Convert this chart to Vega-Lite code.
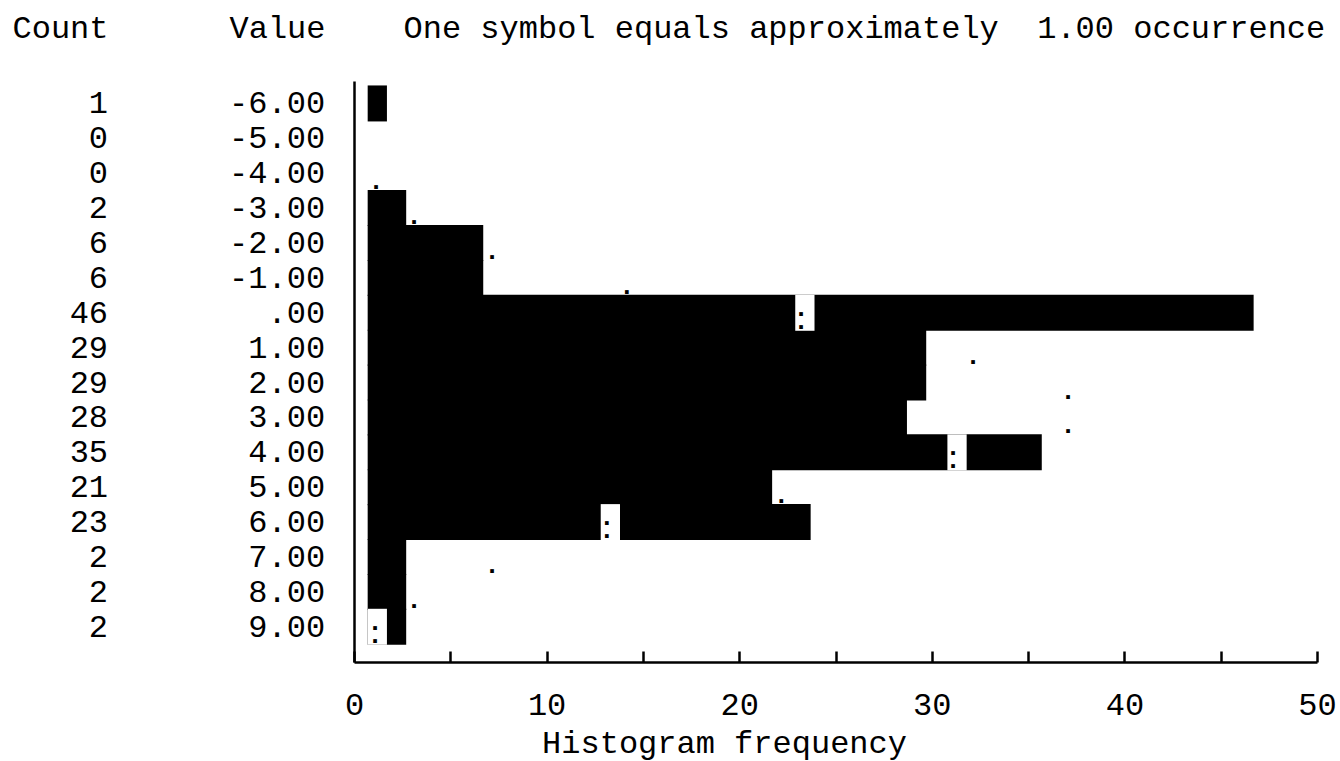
{
  "$schema": "https://vega.github.io/schema/vega-lite/v6.json",
  "width": 963,
  "height": 581,
  "autosize": {"type": "none"},
  "padding": {"left": 354, "top": 81, "right": 23, "bottom": 99},
  "background": "white",
  "config": {"view": {"stroke": null}, "font": "Liberation Mono"},
  "datasets": {
    "hist": [
      {"value": -6, "label": "-6.00", "count": 1, "normal": null, "symbol": null},
      {"value": -5, "label": "-5.00", "count": 0, "normal": null, "symbol": null},
      {"value": -4, "label": "-4.00", "count": 0, "normal": 1.14, "symbol": "."},
      {"value": -3, "label": "-3.00", "count": 2, "normal": 3.12, "symbol": "."},
      {"value": -2, "label": "-2.00", "count": 6, "normal": 7.17, "symbol": "."},
      {"value": -1, "label": "-1.00", "count": 6, "normal": 14.17, "symbol": "."},
      {"value": 0, "label": ".00", "count": 46, "normal": 23.21, "symbol": ":"},
      {"value": 1, "label": "1.00", "count": 29, "normal": 32.14, "symbol": "."},
      {"value": 2, "label": "2.00", "count": 29, "normal": 37.07, "symbol": "."},
      {"value": 3, "label": "3.00", "count": 28, "normal": 37.07, "symbol": "."},
      {"value": 4, "label": "4.00", "count": 35, "normal": 31.1, "symbol": ":"},
      {"value": 5, "label": "5.00", "count": 21, "normal": 22.18, "symbol": "."},
      {"value": 6, "label": "6.00", "count": 23, "normal": 13.13, "symbol": ":"},
      {"value": 7, "label": "7.00", "count": 2, "normal": 7.17, "symbol": "."},
      {"value": 8, "label": "8.00", "count": 2, "normal": 3.12, "symbol": "."},
      {"value": 9, "label": "9.00", "count": 2, "normal": 1.09, "symbol": ":"}
    ],
    "gaps": [
      {"value": 0, "gapStart": 22.2, "gapEnd": 23.2},
      {"value": 4, "gapStart": 30.1, "gapEnd": 31.1},
      {"value": 6, "gapStart": 12.1, "gapEnd": 13.1},
      {"value": 9, "gapStart": 0, "gapEnd": 1.0}
    ]
  },
  "data": {"name": "hist"},
  "layer": [
    {
      "layer": [
        {
          "transform": [{"filter": "datum.count > 0"}],
          "mark": {"type": "bar", "orient": "horizontal", "size": 36, "color": "black"},
          "encoding": {
            "x": {
              "field": "count", "type": "quantitative",
              "scale": {"domain": [-0.71, 49.29], "nice": false, "zero": false},
              "axis": {
                "orient": "top", "labels": false, "ticks": false, "domain": false, "grid": false,
                "title": "One symbol equals approximately\u00a0 1.00 occurrence",
                "titleX": 49, "titleY": -54, "titleAlign": "left", "titleBaseline": "middle", "titleAngle": 0,
                "titleFont": "Liberation Mono", "titleFontSize": 32, "titleFontWeight": "normal", "titleColor": "black"
              }
            },
            "y": {
              "field": "value", "type": "quantitative",
              "scale": {"domain": [-6.5, 9.866], "reverse": true, "nice": false, "zero": false}
            }
          }
        },
        {
          "data": {"name": "gaps"},
          "mark": {"type": "bar", "orient": "horizontal", "size": 36, "color": "white"},
          "encoding": {
            "x": {"field": "gapStart", "type": "quantitative", "scale": {"domain": [-0.71, 49.29], "nice": false, "zero": false}},
            "x2": {"field": "gapEnd"},
            "y": {"field": "value", "type": "quantitative", "scale": {"domain": [-6.5, 9.866], "reverse": true, "nice": false, "zero": false}}
          }
        }
      ]
    },
    {
      "transform": [{"filter": "isValid(datum.normal)"}],
      "layer": [
        {
          "mark": {"type": "text", "text": ".", "font": "Liberation Mono", "fontSize": 26, "fontWeight": "bold", "align": "center", "baseline": "alphabetic", "dy": 16, "color": "black"},
          "encoding": {
            "x": {
              "field": "normal", "type": "quantitative",
              "scale": {"domain": [0, 50], "nice": false},
              "axis": {
                "orient": "bottom",
                "values": [0, 5, 10, 15, 20, 25, 30, 35, 40, 45, 50],
                "labelExpr": "datum.value % 10 === 0 ? datum.label : ''",
                "tickSize": -11, "tickWidth": 2.5, "tickColor": "black",
                "domainColor": "black", "domainWidth": 2.5, "grid": false,
                "labelFont": "Liberation Mono", "labelFontSize": 32, "labelColor": "black",
                "labelPadding": 53, "labelBaseline": "middle", "labelFlush": false, "labelOverlap": false,
                "title": "Histogram frequency", "titleX": 370, "titleY": 80, "titleAlign": "center", "titleBaseline": "middle",
                "titleFont": "Liberation Mono", "titleFontSize": 32, "titleFontWeight": "normal", "titleColor": "black"
              }
            },
            "y": {"field": "value", "type": "quantitative", "scale": {"domain": [-6.5, 9.866], "reverse": true, "nice": false, "zero": false}}
          }
        },
        {
          "transform": [{"filter": "datum.symbol === ':'"}],
          "mark": {"type": "text", "text": ".", "font": "Liberation Mono", "fontSize": 26, "fontWeight": "bold", "align": "center", "baseline": "alphabetic", "dy": 3, "color": "black"},
          "encoding": {
            "x": {"field": "normal", "type": "quantitative", "scale": {"domain": [0, 50], "nice": false}},
            "y": {"field": "value", "type": "quantitative", "scale": {"domain": [-6.5, 9.866], "reverse": true, "nice": false, "zero": false}}
          }
        }
      ]
    },
    {
      "layer": [
        {
          "mark": {"type": "text", "font": "Liberation Mono", "fontSize": 32, "align": "right", "baseline": "middle", "color": "black"},
          "encoding": {
            "x": {
              "datum": -12.77, "type": "quantitative",
              "scale": {"domain": [0, 50], "nice": false},
              "axis": {
                "orient": "top", "labels": false, "ticks": false, "domain": false, "grid": false,
                "title": "Count", "titleX": -246, "titleY": -54, "titleAlign": "right", "titleBaseline": "middle", "titleAngle": 0,
                "titleFont": "Liberation Mono", "titleFontSize": 32, "titleFontWeight": "normal", "titleColor": "black"
              }
            },
            "y": {
              "field": "value", "type": "quantitative",
              "scale": {"domain": [-6.5, 9.866], "reverse": true, "nice": false, "zero": false},
              "axis": {
                "orient": "left", "labels": false, "ticks": false, "tickSize": 0, "grid": false,
                "domainColor": "black", "domainWidth": 2.5,
                "title": "Value", "titleAngle": 0, "titleX": -29, "titleY": -54, "titleAlign": "right", "titleBaseline": "middle",
                "titleFont": "Liberation Mono", "titleFontSize": 32, "titleFontWeight": "normal", "titleColor": "black"
              }
            },
            "text": {"field": "count", "type": "quantitative"}
          }
        },
        {
          "mark": {"type": "text", "font": "Liberation Mono", "fontSize": 32, "align": "right", "baseline": "middle", "color": "black"},
          "encoding": {
            "x": {"datum": -1.5, "type": "quantitative", "scale": {"domain": [0, 50], "nice": false}},
            "y": {"field": "value", "type": "quantitative", "scale": {"domain": [-6.5, 9.866], "reverse": true, "nice": false, "zero": false}},
            "text": {"field": "label", "type": "nominal"}
          }
        }
      ]
    }
  ],
  "resolve": {"scale": {"x": "independent"}, "axis": {"x": "independent"}}
}
